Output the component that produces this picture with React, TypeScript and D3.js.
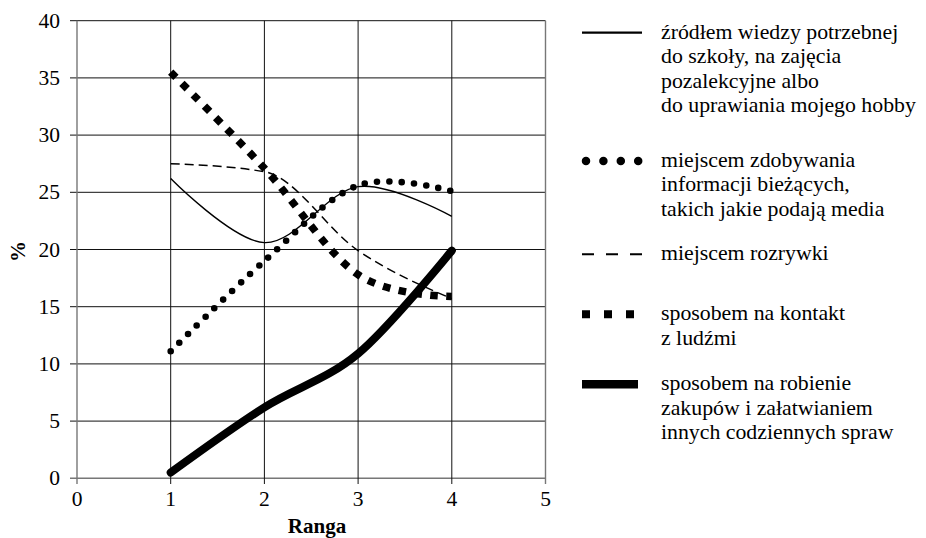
import React from 'react';
import * as d3 from 'd3';

// ---- data ----
const ranks = [1, 2, 3, 4];
const wiedza = [26.2, 20.6, 25.5, 22.9];
const informacje = [11.1, 19.0, 25.6, 25.1];
const rozrywka = [27.5, 26.8, 19.9, 15.7];
const kontakt = [35.5, 27.1, 17.8, 15.9];
const zakupy = [0.5, 6.2, 10.9, 19.9];
const xTicks = [0, 1, 2, 3, 4, 5];
const yTicks = [0, 5, 10, 15, 20, 25, 30, 35, 40];
const legendWiedza = ['źródłem wiedzy potrzebnej', 'do szkoły, na zajęcia', 'pozalekcyjne albo', 'do uprawiania mojego hobby'];
const legendInformacje = ['miejscem zdobywania', 'informacji bieżących,', 'takich jakie podają media'];
const legendRozrywka = ['miejscem rozrywki'];
const legendKontakt = ['sposobem na kontakt', 'z ludźmi'];
const legendZakupy = ['sposobem na robienie', 'zakupów i załatwianiem', 'innych codziennych spraw'];
const xTitle = 'Ranga';
const yTitle = '%';

const FONT = "'Liberation Serif', 'Times New Roman', serif";

type Style = { width: number; dash?: string; cap?: 'round' | 'butt' | 'square' };

export default function App() {
  const x = d3.scaleLinear().domain([0, 5]).range([77, 545.5]);
  const y = d3.scaleLinear().domain([0, 40]).range([478.3, 20.7]);
  const line = d3
    .line<number>()
    .x((_, i) => x(ranks[i]))
    .y((d) => y(d))
    .curve(d3.curveCardinal.tension(0));
  const lineMono = d3
    .line<number>()
    .x((_, i) => x(ranks[i]))
    .y((d) => y(d))
    .curve(d3.curveMonotoneX);

  const series: { values: number[]; style: Style; legend: string[]; baseline: number; mono?: boolean }[] = [
    { values: wiedza, style: { width: 1.4 }, legend: legendWiedza, baseline: 38.5 },
    { values: informacje, style: { width: 6.6, dash: '0 12.3', cap: 'round' }, legend: legendInformacje, baseline: 166.7 },
    { values: rozrywka, style: { width: 1.5, dash: '9 5' }, legend: legendRozrywka, baseline: 260, mono: true },
    { values: kontakt, style: { width: 7.5, dash: '7.5 8.5' }, legend: legendKontakt, baseline: 320 },
    { values: zakupy, style: { width: 8, cap: 'round' }, legend: legendZakupy, baseline: 390 },
  ];

  const legendSymbols: Style[] = [
    { width: 2.3 },
    { width: 8.5, dash: '0 17.4', cap: 'round' },
    { width: 2, dash: '12 12' },
    { width: 8, dash: '8 14' },
    { width: 8.5 },
  ];
  const legendX1 = [582, 586, 582, 582, 582];
  const legendX2 = [642, 638.5, 642, 634, 638];

  const [, x1] = x.range();
  const [yb, yt] = y.range();

  return (
    <svg
      width={926}
      height={538}
      style={{ position: 'absolute', left: 0, top: 0, display: 'block', background: '#fff', fontFamily: FONT }}
    >
      {yTicks.map((t) => (
        <line key={'gy' + t} x1={70} x2={x1} y1={y(t)} y2={y(t)} stroke={t === 0 ? '#777' : '#111'} strokeWidth={t === 0 ? 1.4 : 1} />
      ))}
      {xTicks.map((t) => (
        <line
          key={'gx' + t}
          x1={x(t)}
          x2={x(t)}
          y1={yt}
          y2={484}
          stroke={t === 0 || t === 5 ? '#777' : '#111'}
          strokeWidth={t === 0 || t === 5 ? 1.4 : 1}
        />
      ))}
      {yTicks.map((t) => (
        <text key={'ly' + t} x={60} y={y(t)} dy="0.33em" textAnchor="end" fontSize={21.5} fill="#000">
          {t}
        </text>
      ))}
      {xTicks.map((t) => (
        <text key={'lx' + t} x={x(t)} y={506} textAnchor="middle" fontSize={21.5} fill="#000">
          {t}
        </text>
      ))}
      <text x={317} y={533} textAnchor="middle" fontSize={21} fontWeight="bold" fill="#000">
        {xTitle}
      </text>
      <text transform={`translate(25,${(yb + yt) / 2 + 2}) rotate(-90)`} textAnchor="middle" fontSize={21} fontWeight="bold" fill="#000">
        {yTitle}
      </text>

      {series.map((s, i) => (
        <path
          key={'s' + i}
          d={(s.mono ? lineMono : line)(s.values) || ''}
          fill="none"
          stroke="#000"
          strokeWidth={s.style.width}
          strokeDasharray={s.style.dash}
          strokeLinecap={s.style.cap || 'butt'}
        />
      ))}

      {series.map((s, i) => {
        const sym = legendSymbols[i];
        const sy = s.baseline - 5.8;
        return (
          <g key={'lg' + i}>
            <line
              x1={legendX1[i]}
              x2={legendX2[i]}
              y1={sy}
              y2={sy}
              stroke="#000"
              strokeWidth={sym.width}
              strokeDasharray={sym.dash}
              strokeLinecap={sym.cap || 'butt'}
            />
            {s.legend.map((t, j) => (
              <text key={j} x={661} y={s.baseline + j * 24.5} fontSize={21.8} fill="#000">
                {t}
              </text>
            ))}
          </g>
        );
      })}
    </svg>
  );
}
